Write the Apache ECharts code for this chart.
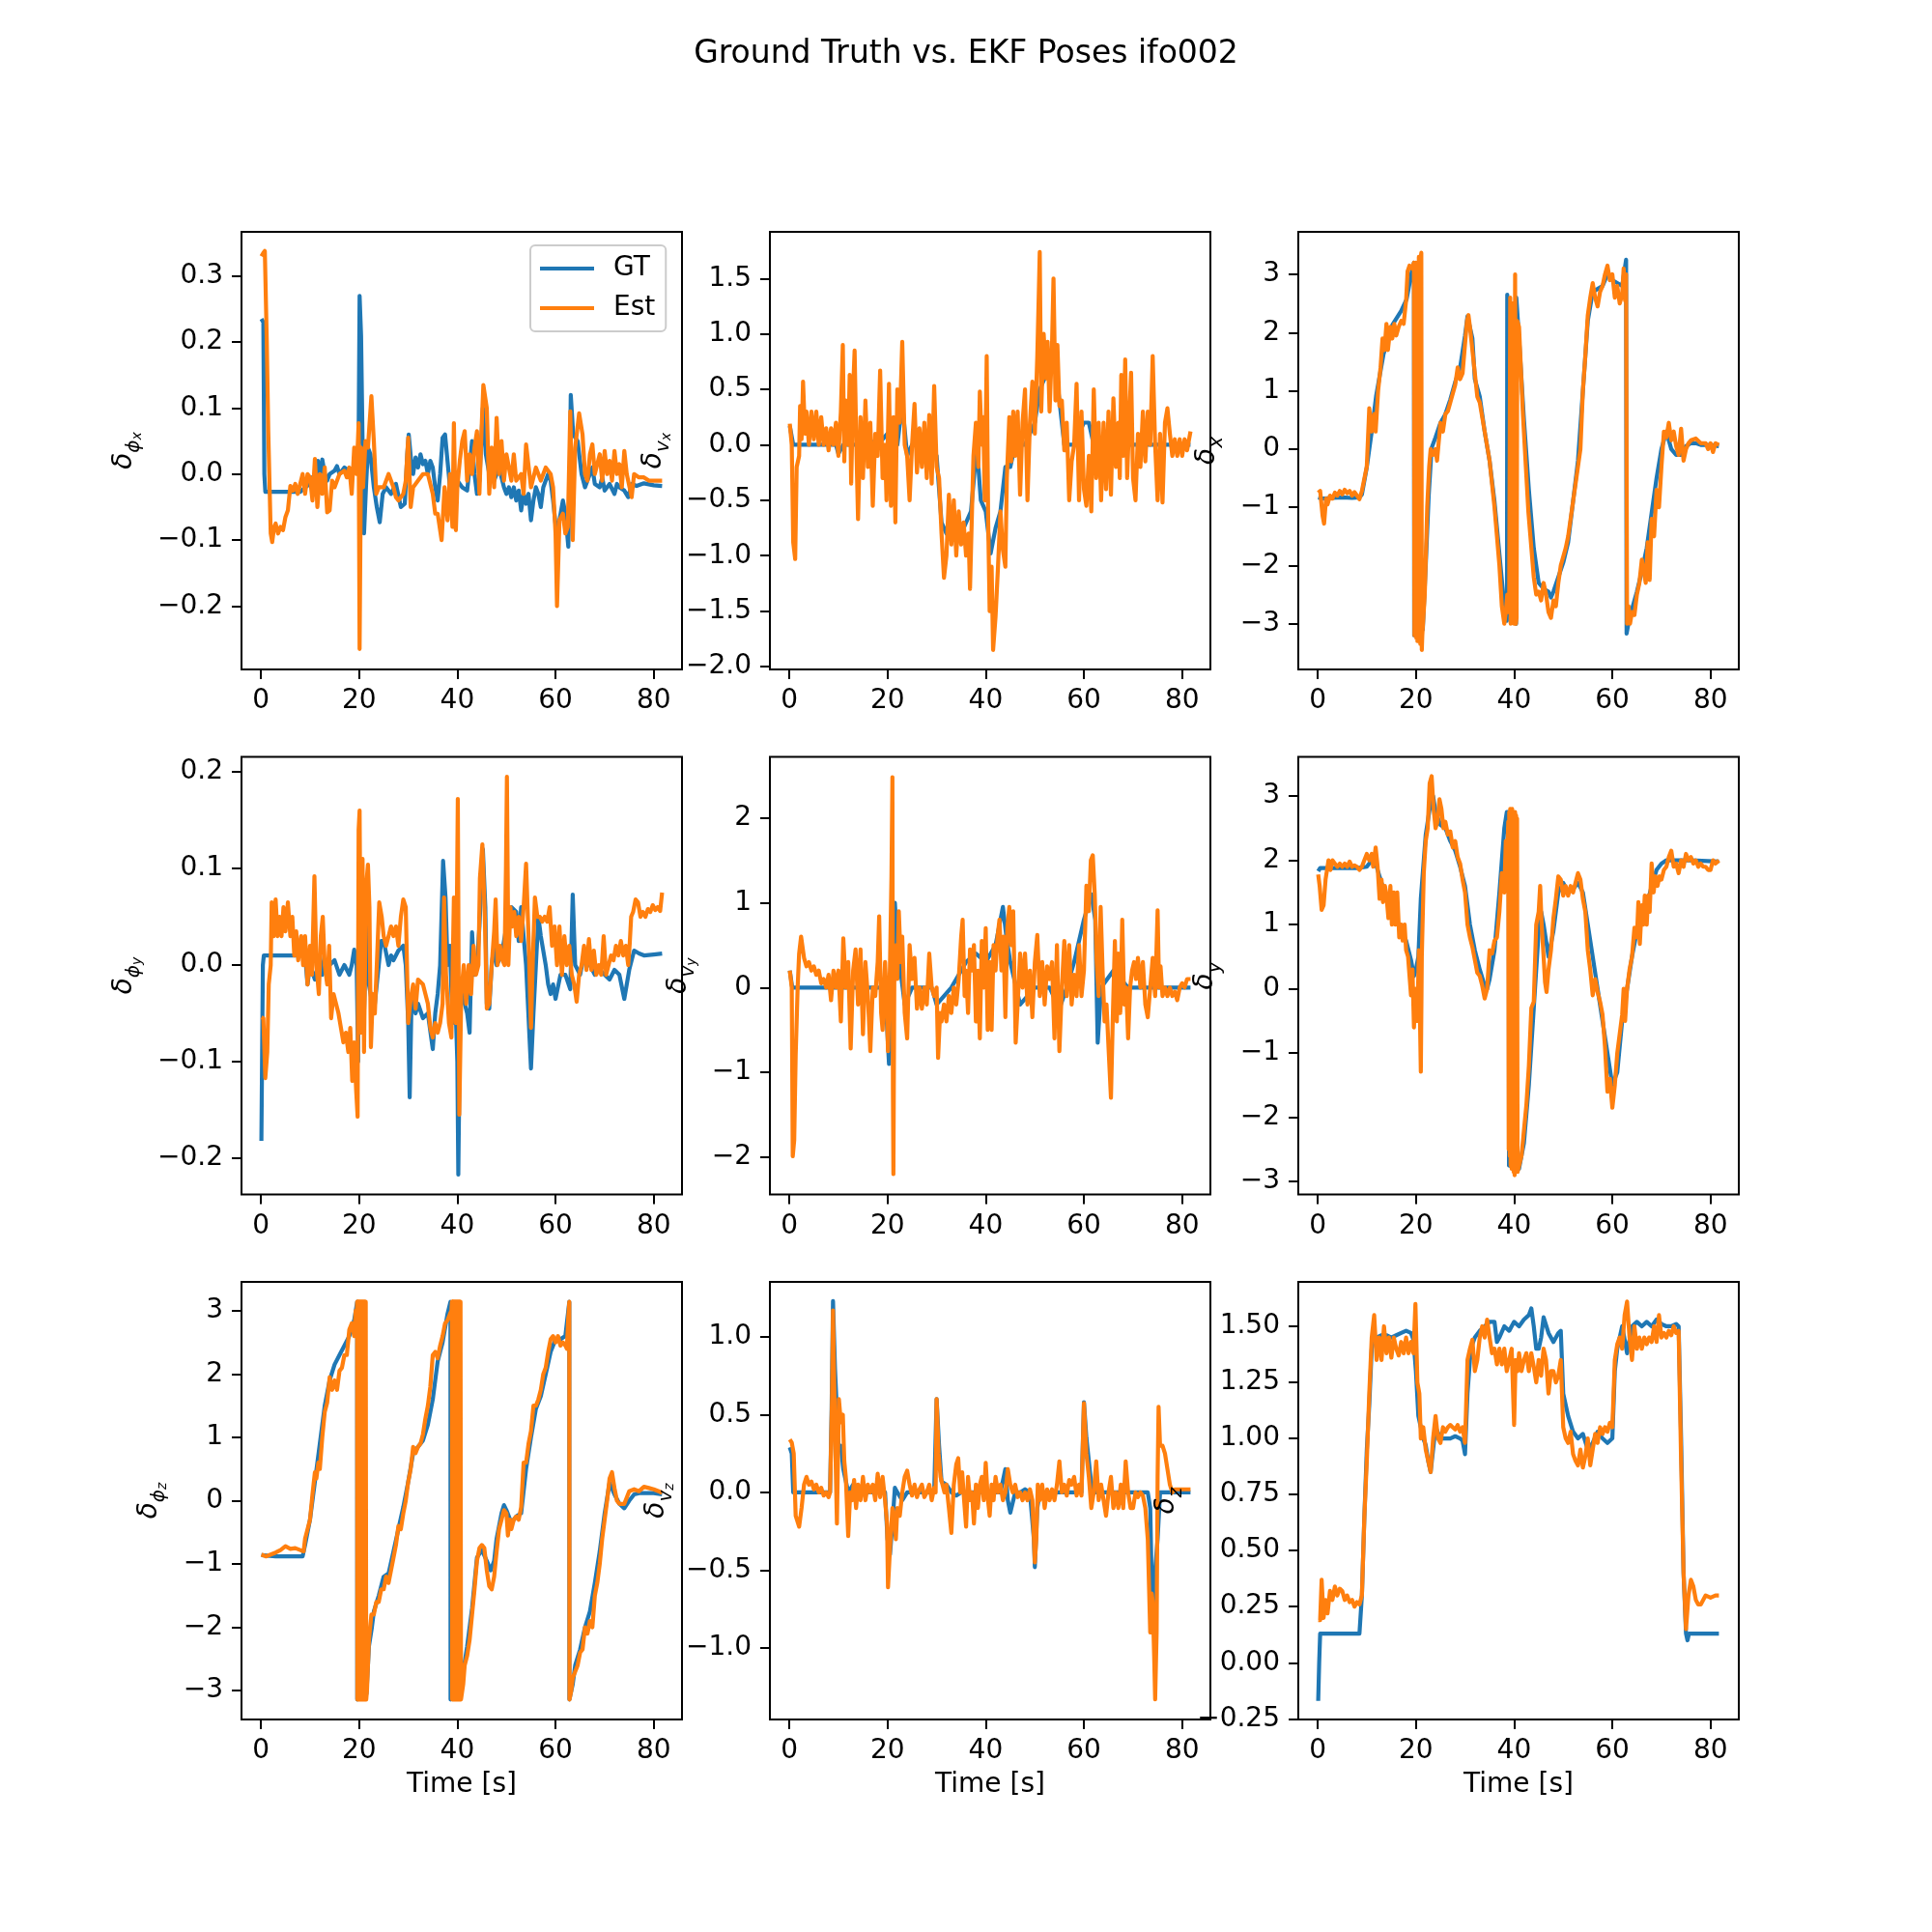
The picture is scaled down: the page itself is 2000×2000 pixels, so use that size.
<!DOCTYPE html>
<html><head><meta charset="utf-8">
<script src="https://cdn.jsdelivr.net/npm/echarts@6.0.0/dist/echarts.min.js"></script>
<style>html,body{margin:0;padding:0;background:#fff}#c{width:2000px;height:2000px}</style>
</head><body><div id="c"></div>
<script>
// ---------------- DATA ----------------
const timeTicks = [0, 20, 40, 60, 80];
const phiX_ticks = [-0.2, -0.1, 0, 0.1, 0.2, 0.3];
const vX_ticks = [-2, -1.5, -1, -0.5, 0, 0.5, 1, 1.5];
const x_ticks = [-3, -2, -1, 0, 1, 2, 3];
const phiY_ticks = [-0.2, -0.1, 0, 0.1, 0.2];
const vY_ticks = [-2, -1, 0, 1, 2];
const y_ticks = [-3, -2, -1, 0, 1, 2, 3];
const phiZ_ticks = [-3, -2, -1, 0, 1, 2, 3];
const vZ_ticks = [-1, -0.5, 0, 0.5, 1];
const z_ticks = [-0.25, 0, 0.25, 0.5, 0.75, 1, 1.25, 1.5];

const phiX_GT = [[0.1,0.235],[0.5,0.23],[0.7,0.0],[0.9,-0.027],[4,-0.027],[8,-0.027],[9,-0.02],[10,-0.015],[10.5,-0.005],[11,-0.01],[11.6,0.02],[12,-0.005],[12.5,0.022],[13,0.0],[13.5,-0.01],[14,0.0],[15,0.005],[15.5,0.012],[16,0.0],[17,0.01],[18,0.005],[19,0.01],[19.5,0.005],[19.9,0.05],[20.1,0.27],[20.4,0.21],[20.7,0.05],[21,-0.09],[21.4,-0.02],[21.8,0.04],[22.3,0.03],[23,-0.02],[23.6,-0.05],[24.2,-0.073],[24.8,-0.03],[25.5,-0.02],[26.5,-0.03],[27.5,-0.015],[28.5,-0.05],[29.3,-0.045],[29.8,0.03],[30.1,0.06],[30.6,0.02],[31,0.0],[31.5,0.025],[32,0.01],[32.5,0.03],[33,0.015],[33.5,0.02],[34,0.0],[34.5,0.02],[35,0.01],[35.5,-0.02],[36,-0.04],[36.5,0.0],[37,0.055],[37.5,0.06],[38,0.02],[38.5,-0.02],[39,0.0],[40,-0.01],[41,-0.02],[42,-0.025],[42.5,0.01],[43,0.05],[43.5,0.0],[44,-0.03],[44.5,-0.01],[45.2,0.1],[45.8,0.03],[46.5,0.0],[47.5,-0.01],[48.5,0.01],[49.5,-0.02],[50,-0.03],[50.5,-0.02],[51,-0.035],[51.5,-0.02],[52,-0.04],[52.5,-0.025],[53,-0.055],[53.5,-0.03],[54,-0.045],[54.5,-0.03],[55,-0.07],[55.5,-0.04],[56,-0.02],[56.5,-0.03],[57,-0.05],[57.5,-0.02],[58,-0.01],[58.5,0.0],[59,-0.01],[59.5,-0.04],[60.2,-0.09],[60.8,-0.07],[61.5,-0.04],[62,-0.06],[62.6,-0.11],[62.9,0.0],[63.1,0.12],[63.6,0.06],[64.5,0.05],[65.3,0.0],[66,-0.02],[66.5,-0.01],[67.5,0.01],[68,-0.015],[69,-0.02],[69.5,-0.005],[70,-0.025],[71,-0.015],[72,-0.03],[72.5,-0.015],[73,-0.02],[74,-0.025],[74.8,-0.035],[75.5,-0.015],[76.5,-0.018],[78,-0.014],[80,-0.017],[81.7,-0.018]];
const phiX_Est = [[0.1,0.33],[0.5,0.335],[0.8,0.338],[1.2,0.2],[1.5,0.065],[2,-0.09],[2.3,-0.103],[2.7,-0.08],[3,-0.075],[3.5,-0.09],[4,-0.08],[4.5,-0.085],[5,-0.065],[5.5,-0.055],[6,-0.018],[6.5,-0.025],[7,-0.015],[7.5,-0.03],[8,-0.015],[8.5,0.0],[9,-0.03],[9.5,0.0],[10,-0.005],[10.5,-0.04],[11,0.023],[11.5,-0.05],[12,0.0],[12.5,-0.03],[13,0.01],[13.5,-0.058],[14,-0.055],[14.5,-0.01],[15,-0.02],[16,0.0],[17,0.005],[17.5,-0.005],[18,0.01],[18.5,-0.03],[19,0.04],[19.5,0.0],[19.9,0.077],[20.1,-0.265],[20.4,0.04],[20.8,-0.02],[21.3,0.05],[21.8,0.04],[22.5,0.118],[23,0.05],[23.5,-0.03],[24,-0.02],[25,-0.02],[26,0.0],[27,-0.02],[27.5,-0.035],[28,-0.04],[29,-0.03],[29.5,-0.01],[30,0.055],[30.5,-0.05],[31,-0.02],[32,-0.01],[33,0.0],[34,0.0],[35,-0.03],[35.5,-0.06],[36,-0.06],[36.8,-0.1],[37.4,-0.02],[38,-0.07],[38.5,0.0],[39,-0.08],[39.3,0.077],[39.7,-0.085],[40,-0.02],[40.5,0.02],[41,0.05],[41.5,0.065],[42,-0.01],[42.5,0.03],[43,0.0],[43.5,0.04],[44,0.065],[44.5,-0.03],[45,0.08],[45.3,0.135],[46,0.1],[46.5,-0.03],[47,0.04],[47.5,-0.02],[48,0.085],[48.5,0.0],[49,0.05],[49.5,-0.01],[50,0.03],[51,-0.01],[51.5,0.03],[52,-0.01],[53,0.0],[53.5,-0.03],[54,0.045],[55,-0.02],[56,0.01],[57,-0.01],[58,0.01],[59,0.0],[59.5,-0.02],[60,-0.09],[60.3,-0.2],[60.8,-0.07],[61.5,-0.06],[62,-0.09],[62.5,-0.08],[63,0.095],[63.5,-0.1],[64,0.04],[64.8,0.092],[65.5,0.06],[66,0.0],[66.5,-0.01],[67,0.03],[67.5,0.045],[68,0.0],[69,0.03],[69.5,-0.01],[70,0.035],[70.5,0.0],[71,0.02],[71.5,-0.01],[72,0.035],[72.5,0.0],[73,0.015],[73.5,-0.02],[74,0.035],[74.5,0.0],[75.5,-0.035],[76,0.0],[77,-0.005],[78,-0.005],[79,-0.01],[80,-0.01],[81.7,-0.01]];

const vX_GT = [[0.1,0.17],[0.8,0.0],[9.5,0.0],[10,-0.08],[11,0.0],[14,0.0],[16,0.05],[18,0.0],[20,0.1],[22,0.0],[23,0.37],[24,-0.1],[25,0.0],[28,0.0],[30,-0.1],[31,-0.7],[32,-0.8],[33,-0.7],[35,-0.8],[37,-0.6],[38,-0.1],[38.5,-0.2],[39,-0.5],[40,-0.6],[41,-0.98],[42,-0.75],[43,-0.6],[44,-0.2],[45,-0.2],[46,0.0],[48,0.0],[50,0.2],[51,0.5],[53,0.7],[54,0.79],[55,0.4],[56,0.0],[58,0.0],[60,0.2],[61,0.2],[62,0.0],[81.7,0.0]];
const vX_Est = [[0.1,0.19],[0.5,0.0],[0.8,-0.88],[1.2,-1.03],[1.5,-0.2],[2,-0.1],[2.2,0.35],[2.5,0.05],[2.8,0.57],[3.2,0.1],[3.5,0.3],[4,0.0],[4.5,0.3],[5,0.05],[5.5,0.3],[6,0.0],[6.5,0.25],[7,0.0],[7.5,0.15],[8,-0.05],[8.5,0.15],[9,0.0],[9.5,0.2],[10,-0.1],[10.5,0.3],[10.9,0.9],[11.2,-0.15],[11.5,0.4],[12,0.0],[12.3,0.63],[12.6,-0.35],[13,0.5],[13.3,0.85],[13.7,-0.1],[14,-0.67],[14.5,0.25],[15,-0.3],[15.5,0.4],[16,-0.2],[16.5,0.2],[17,-0.55],[17.5,0.1],[18,-0.1],[18.5,0.67],[19,-0.3],[19.5,0.0],[19.8,-0.5],[20.3,0.55],[20.7,-0.55],[21.2,0.25],[21.6,-0.7],[22,0.5],[22.5,0.2],[23,0.93],[23.5,0.0],[24,-0.1],[24.5,-0.5],[25,0.0],[25.5,0.37],[26,-0.25],[26.5,0.15],[27,-0.2],[27.5,0.2],[28,-0.3],[28.5,0.27],[29,-0.35],[29.5,0.53],[30,-0.2],[30.5,-0.3],[31,-0.8],[31.5,-1.2],[32,-1.0],[32.5,-0.45],[33,-0.9],[33.5,-0.5],[34,-1.0],[34.5,-0.6],[35,-0.9],[35.5,-0.7],[36,-1.0],[36.5,-0.8],[36.8,-1.3],[37.2,-0.6],[37.5,-0.1],[38,0.2],[38.5,-0.2],[38.8,0.48],[39.2,0.0],[39.5,0.25],[39.8,-0.5],[40.2,0.8],[40.5,-0.7],[40.8,-1.5],[41.2,-1.1],[41.5,-1.85],[42,-1.55],[42.5,-1.1],[43,-0.6],[43.5,-0.95],[44,-1.1],[44.3,-0.3],[44.8,0.25],[45.2,-0.15],[45.6,0.3],[46,-0.1],[46.5,0.3],[47,-0.45],[47.5,0.2],[48,0.5],[48.5,-0.5],[49,0.2],[49.5,0.57],[50,0.1],[50.5,0.8],[50.8,1.35],[51,1.74],[51.3,0.3],[51.8,1.0],[52.3,0.6],[52.6,0.93],[53,0.3],[53.5,0.9],[53.8,1.5],[54.2,0.4],[54.6,0.9],[55,0.35],[55.5,0.4],[56,-0.05],[56.5,0.2],[57,-0.5],[57.5,-0.15],[58,0.0],[58.5,0.55],[59,-0.5],[59.5,0.3],[60,-0.4],[60.5,-0.55],[61,-0.1],[61.5,-0.6],[62,0.5],[62.5,-0.3],[63,0.2],[63.5,-0.5],[64,0.2],[64.5,-0.4],[65,0.3],[65.5,-0.45],[66,0.42],[66.5,-0.2],[67,0.2],[67.3,-0.3],[67.6,0.63],[68,-0.1],[68.4,0.77],[68.8,-0.3],[69.2,0.2],[69.6,0.65],[70,-0.3],[70.5,-0.5],[71,0.1],[71.5,-0.2],[72,0.3],[72.5,-0.15],[73,0.3],[73.5,0.0],[74,0.8],[74.5,0.0],[75,-0.5],[75.5,0.1],[76,-0.52],[76.5,0.2],[77,0.33],[77.5,0.1],[78,-0.1],[78.5,0.05],[79,-0.1],[79.5,0.05],[80,-0.1],[80.5,0.05],[81,-0.05],[81.7,0.12]];

const x_GT = [[0.1,-0.83],[1,-0.85],[3,-0.84],[5,-0.83],[7,-0.84],[8.5,-0.83],[9,-0.78],[10,-0.31],[11,0.3],[11.9,0.91],[13.4,1.63],[15.2,2.13],[17,2.37],[18.1,2.57],[19.2,3.07],[19.6,3.2],[19.65,-3.2],[21.4,-3.1],[22,-2.0],[22.6,-0.8],[23.2,0.02],[24,0.2],[25,0.45],[26,0.6],[27,0.85],[28,1.15],[29,1.4],[30,1.95],[30.5,2.28],[31.5,1.9],[32,1.2],[33,0.9],[34,0.3],[35,-0.2],[36,-0.9],[37,-1.8],[38,-2.7],[38.5,-2.95],[38.55,-2.7],[38.6,2.65],[38.7,2.65],[38.75,-2.7],[39.5,-2.8],[40.4,-3.0],[40.45,2.6],[41,1.9],[42,0.5],[43,-0.7],[44,-1.7],[45,-2.3],[46,-2.4],[47,-2.45],[47.5,-2.55],[48,-2.45],[49,-2.2],[50,-1.95],[51,-1.6],[52,-0.9],[53,-0.2],[54,1.0],[55,2.2],[56,2.7],[57,2.75],[58,2.8],[59,3.0],[60,2.9],[61,2.85],[62,2.8],[62.8,3.25],[62.9,-3.17],[63.5,-2.9],[64,-2.75],[65,-2.45],[66,-2.1],[67,-1.7],[68,-1.1],[69,-0.5],[70,0.0],[71,0.3],[72,0.0],[73,-0.1],[74,-0.1],[75,0.05],[76,0.1],[77,0.1],[78,0.07],[80,0.07],[81.7,0.05]];
const x_Est = [[0.1,-0.75],[0.5,-0.72],[1,-1.15],[1.3,-1.28],[1.7,-0.85],[2,-0.95],[2.5,-0.8],[3,-0.85],[3.5,-0.75],[4,-0.8],[4.5,-0.72],[5,-0.78],[5.5,-0.7],[6,-0.76],[6.5,-0.72],[7,-0.8],[7.5,-0.74],[8,-0.8],[8.5,-0.86],[9,-0.72],[10,-0.3],[10.5,0.7],[11,0.3],[11.5,0.6],[11.8,0.3],[12.3,1.0],[12.8,1.4],[13.2,1.9],[13.6,1.7],[14,2.15],[14.3,1.7],[14.8,2.1],[15.2,1.9],[15.6,2.15],[16,1.95],[16.5,2.1],[17,2.2],[17.5,2.15],[18,2.55],[18.3,3.05],[18.7,3.15],[19.2,3.1],[19.6,3.2],[19.7,-3.2],[19.8,3.1],[19.9,-3.15],[20.0,3.2],[20.1,-3.25],[20.2,3.1],[20.3,-3.3],[20.4,3.2],[20.5,-3.2],[20.6,3.3],[20.7,-3.3],[20.8,3.15],[20.9,-3.35],[21.0,3.3],[21.1,3.37],[21.2,-3.45],[21.3,-3.2],[21.8,-2.5],[22.3,-1.0],[22.7,-0.3],[23,0.0],[23.5,-0.1],[24,0.0],[24.3,-0.2],[25,0.45],[25.5,0.3],[26,0.6],[26.5,0.65],[27,0.8],[28,1.1],[28.5,1.4],[29,1.2],[29.5,1.3],[30,1.8],[30.4,2.2],[30.7,2.3],[31,2.1],[32,1.3],[32.5,0.9],[33,0.8],[34,0.3],[35,-0.2],[36,-1.0],[37,-2.0],[37.5,-2.7],[38,-3.0],[38.3,-2.8],[38.6,-2.5],[38.8,-2.8],[39.0,-2.7],[39.2,2.6],[39.3,-3.0],[39.5,-2.7],[39.7,2.5],[39.8,-2.9],[40.0,-3.0],[40.2,3.0],[40.35,-3.0],[40.5,-2.9],[40.65,2.2],[41,2.1],[41.8,0.58],[42.9,-1.08],[44,-2.2],[44.5,-2.5],[45,-2.45],[45.5,-2.6],[46,-2.3],[46.5,-2.5],[47,-2.8],[47.5,-2.9],[48,-2.6],[48.5,-2.7],[49,-2.3],[49.5,-2.0],[50,-1.85],[50.5,-1.7],[51,-1.5],[52,-0.9],[53,-0.3],[53.5,0.0],[54,1.0],[54.5,1.6],[55,2.3],[55.5,2.6],[56,2.85],[56.5,2.6],[57,2.45],[57.5,2.7],[58,2.8],[58.5,3.0],[59,3.15],[59.5,2.9],[60,3.0],[60.5,2.6],[61,2.8],[61.5,2.5],[62,2.65],[62.3,3.1],[62.6,2.55],[62.8,3.0],[63,-3.0],[63.3,-2.7],[63.6,-3.0],[64,-2.8],[64.5,-2.85],[65,-2.5],[65.5,-2.3],[66,-1.9],[66.3,-1.9],[66.8,-2.3],[67.2,-1.6],[67.6,-2.25],[68,-1.2],[68.5,-1.5],[69,-0.7],[69.5,-1.0],[70,-0.3],[70.5,0.3],[71,0.2],[71.5,0.45],[72,0.15],[72.5,0.3],[73,0.05],[73.5,-0.1],[74,0.35],[74.5,-0.2],[75,0.0],[75.5,0.1],[76,0.15],[77,0.18],[78,0.1],[79,0.1],[79.5,0.0],[80,0.1],[80.5,-0.05],[81,0.1],[81.7,0.07]];

const phiY_GT = [[0.1,-0.182],[0.4,0.0],[0.6,0.01],[8,0.01],[9,0.01],[9.5,-0.02],[10,0.0],[11,-0.015],[12,0.01],[12.5,-0.01],[13,0.005],[14,0.0],[15,0.005],[16,-0.01],[17,0.0],[18,-0.01],[18.5,0.0],[19,0.016],[19.5,0.0],[19.8,-0.1],[20,0.05],[20.5,0.08],[21,-0.05],[21.5,0.042],[22,-0.02],[23,-0.05],[24,0.0],[24.5,0.025],[25,0.025],[26,0.0],[26.5,0.01],[27,0.005],[28,0.015],[29,0.02],[29.5,0.0],[30,-0.06],[30.3,-0.137],[30.7,-0.03],[31,-0.03],[31.5,-0.05],[32,-0.04],[33,-0.055],[34,-0.05],[35,-0.087],[35.5,-0.05],[36,-0.03],[36.5,0.0],[37.1,0.108],[37.6,0.07],[38,0.0],[38.5,0.02],[39,-0.06],[39.5,-0.02],[40,-0.1],[40.2,-0.217],[40.6,-0.03],[41,-0.03],[42,-0.05],[42.5,-0.07],[43,0.034],[43.5,-0.01],[44,0.0],[44.5,0.04],[45.2,0.12],[45.7,0.06],[46,-0.04],[46.5,-0.045],[47,0.0],[47.5,0.02],[48,0.0],[49,0.01],[50,0.04],[51,0.06],[52,0.055],[52.5,0.025],[53,0.06],[54,0.0],[55,-0.107],[55.5,-0.05],[56,0.0],[56.5,0.05],[57,0.03],[58,0.0],[58.5,-0.02],[59,-0.03],[59.5,-0.02],[60,-0.035],[61,-0.01],[62,-0.01],[63,-0.025],[63.5,0.073],[64,0.0],[65,-0.01],[66,0.015],[67,0.0],[68,-0.01],[69,-0.005],[70,-0.01],[71,-0.015],[72,-0.005],[73,-0.01],[74,-0.035],[75,-0.005],[76,0.015],[77,0.012],[78,0.01],[80,0.011],[81.7,0.012]];
const phiY_Est = [[0.1,-0.054],[0.5,-0.055],[0.9,-0.117],[1.3,-0.09],[1.6,-0.02],[2,0.0],[2.2,0.065],[2.6,0.03],[3,0.068],[3.4,0.03],[3.8,0.05],[4.2,0.03],[4.6,0.06],[5,0.035],[5.5,0.065],[6,0.03],[6.4,0.05],[6.8,0.01],[7.2,0.035],[7.6,0.005],[8.2,0.03],[8.6,0.0],[9,0.03],[9.5,-0.02],[10,0.02],[10.4,-0.01],[10.9,0.092],[11.3,0.0],[11.8,-0.03],[12.2,0.03],[12.6,0.05],[13,0.0],[13.5,-0.02],[13.9,0.02],[14.3,-0.055],[14.8,-0.03],[15.3,-0.04],[15.8,-0.05],[16.3,-0.065],[16.8,-0.08],[17.3,-0.07],[17.8,-0.09],[18.2,-0.065],[18.6,-0.12],[19,-0.08],[19.4,-0.13],[19.7,-0.157],[19.9,0.14],[20.1,0.16],[20.4,-0.07],[20.7,0.11],[21,-0.09],[21.4,0.08],[21.8,0.104],[22.1,0.06],[22.4,-0.085],[22.8,-0.03],[23.2,-0.05],[23.6,0.0],[24.1,0.065],[24.6,0.05],[25,0.03],[25.5,0.02],[26,0.03],[26.5,0.04],[27,0.03],[27.5,0.04],[28,0.02],[28.5,0.05],[29,0.068],[29.5,0.06],[30,-0.06],[30.5,-0.035],[31,-0.02],[31.5,-0.045],[32,-0.015],[33,-0.02],[34,-0.04],[34.5,-0.065],[35,-0.075],[35.5,-0.06],[36,-0.07],[36.5,-0.06],[37,-0.04],[37.3,0.07],[37.7,-0.01],[38.3,-0.06],[38.8,-0.075],[39.3,0.07],[39.7,-0.06],[40.1,0.172],[40.4,-0.155],[40.8,-0.03],[41.3,0.0],[41.8,-0.04],[42.3,0.0],[42.8,-0.03],[43.3,0.02],[43.8,-0.01],[44.3,0.0],[44.6,0.09],[45.1,0.125],[45.6,0.05],[46,-0.045],[46.5,-0.04],[47,0.0],[47.5,0.035],[47.8,0.068],[48.2,0.0],[48.7,0.02],[49.2,0.005],[49.6,0.0],[49.9,0.1],[50.1,0.195],[50.4,0.0],[50.8,0.06],[51.2,0.04],[51.6,0.055],[52,0.03],[52.5,0.05],[53,0.025],[53.5,0.06],[54,0.105],[54.5,0.03],[55,-0.065],[55.4,0.01],[55.8,0.07],[56.3,0.05],[56.8,0.05],[57.3,0.045],[57.8,0.05],[58.3,0.045],[58.8,0.06],[59.3,0.02],[59.8,0.04],[60.3,0.0],[60.8,0.04],[61.3,-0.01],[61.8,0.03],[62.3,0.0],[62.8,0.02],[63.3,-0.01],[63.8,-0.02],[64.3,-0.038],[64.8,-0.01],[65.3,0.0],[65.8,0.02],[66.3,-0.005],[66.8,0.027],[67.3,-0.005],[67.8,0.015],[68.3,-0.01],[68.8,0.0],[69.3,-0.01],[69.8,0.03],[70.3,-0.01],[70.8,0.0],[71.3,0.01],[71.8,0.005],[72.3,0.02],[72.8,0.01],[73.3,0.025],[73.8,0.01],[74.3,0.02],[74.8,0.0],[75.1,0.022],[75.4,0.05],[75.8,0.055],[76.3,0.068],[76.8,0.065],[77.3,0.05],[77.8,0.055],[78.3,0.05],[78.8,0.058],[79.3,0.055],[79.8,0.062],[80.3,0.057],[80.8,0.06],[81.3,0.056],[81.7,0.075]];

const vY_GT = [[0.1,0.2],[0.6,0.0],[10,0.0],[19.5,0.0],[20.3,-0.9],[21,0.0],[21.5,1.0],[22,0.5],[23.5,-0.2],[25,0.0],[29,0.0],[30,-0.2],[33,0.0],[36,0.3],[38,0.4],[40,0.3],[42,0.5],[43.5,0.95],[44.2,0.6],[45,0.3],[47,-0.2],[50,0.0],[53,0.0],[55,-0.25],[56.5,0.0],[58,0.3],[60,0.8],[61.5,1.1],[62.3,0.8],[62.8,-0.65],[63.5,0.0],[66,0.2],[69,0.0],[81.7,0.0]];
const vY_Est = [[0.1,0.2],[0.5,0.0],[0.7,-1.99],[1.0,-1.8],[1.3,-0.8],[1.7,0.0],[2,0.4],[2.4,0.6],[3,0.35],[3.5,0.25],[4,0.3],[4.5,0.2],[5,0.25],[5.5,0.15],[6,0.2],[6.5,0.05],[7,0.1],[7.5,0.0],[8,0.15],[8.5,-0.15],[9,0.2],[9.5,0.0],[10,0.2],[10.5,-0.4],[11,0.58],[11.5,0.0],[12,0.3],[12.5,-0.72],[13,0.2],[13.5,0.45],[14,-0.2],[14.5,0.45],[15,-0.55],[15.5,0.3],[16,-0.1],[16.5,-0.75],[17,0.0],[17.5,-0.1],[18,0.3],[18.3,0.84],[18.7,-0.3],[19,-0.5],[19.5,0.3],[19.8,-0.1],[20.1,-0.75],[20.5,0.25],[20.8,1.3],[21.0,2.48],[21.1,-1.2],[21.2,-2.2],[21.4,0.3],[21.8,0.5],[22,0.1],[22.3,0.9],[22.7,0.3],[23,0.6],[23.5,-0.3],[24,-0.6],[24.5,0.5],[25,0.1],[25.5,0.35],[26,-0.25],[26.5,0.0],[27,-0.25],[27.5,0.0],[28,-0.2],[28.5,0.4],[29,0.0],[29.5,-0.1],[30,0.0],[30.3,-0.83],[30.7,-0.3],[31,-0.4],[31.5,-0.2],[32,-0.4],[32.5,-0.1],[33,-0.3],[33.5,0.0],[34,-0.2],[34.5,0.1],[35,0.6],[35.3,0.8],[35.7,-0.1],[36,0.2],[36.4,-0.3],[36.8,0.45],[37.2,0.2],[37.6,0.5],[38,-0.4],[38.4,0.2],[38.8,-0.6],[39.2,0.55],[39.6,0.0],[40,0.7],[40.4,-0.5],[40.8,0.3],[41.2,-0.5],[41.6,0.5],[42,0.2],[42.4,0.6],[42.8,0.8],[43.2,0.2],[43.6,0.6],[44,-0.35],[44.4,0.7],[44.8,0.95],[45.2,0.5],[45.6,0.9],[46.1,-0.65],[46.5,-0.2],[47,0.4],[47.5,0.0],[48,0.4],[48.5,-0.2],[49,0.2],[49.5,-0.35],[50,0.3],[50.5,0.62],[51,-0.1],[51.5,0.3],[52,-0.2],[52.5,0.25],[53,0.1],[53.5,0.3],[54,-0.6],[54.5,0.5],[55,-0.75],[55.5,0.0],[56,0.55],[56.5,-0.1],[57,0.5],[57.5,-0.2],[58,0.15],[58.5,-0.1],[59,0.5],[59.5,-0.1],[60,0.2],[60.5,1.2],[61,0.9],[61.4,1.5],[61.8,1.56],[62.2,1.1],[62.6,0.3],[63,-0.1],[63.4,0.95],[63.8,0.2],[64.2,-0.4],[64.6,-0.2],[65,-0.7],[65.5,-1.3],[65.9,-0.3],[66.3,0.55],[66.7,-0.4],[67,0.4],[67.4,-0.3],[67.8,0.8],[68.2,-0.2],[68.6,0.0],[69,-0.6],[69.4,0.0],[69.8,0.2],[70.2,0.3],[70.6,0.1],[71,0.35],[71.5,0.0],[72,0.3],[72.5,-0.2],[73,-0.35],[73.5,0.0],[74,0.35],[74.5,-0.1],[75,0.91],[75.3,0.0],[75.6,0.25],[76,-0.1],[76.5,0.0],[77,-0.1],[77.5,0.0],[78,-0.1],[78.5,-0.05],[79,-0.15],[79.5,0.0],[80,0.05],[80.5,0.0],[81,0.1],[81.7,0.1]];

const y_GT = [[0.1,1.83],[0.5,1.88],[8,1.88],[10,1.9],[11,2.0],[12,1.9],[13,1.65],[14,1.45],[15,1.3],[16,1.1],[17,0.9],[18,0.75],[19,0.45],[19.6,0.2],[20,0.3],[20.5,0.5],[21,1.4],[22,2.4],[23,2.9],[23.5,3.0],[24,2.75],[25,2.55],[26,2.5],[27,2.3],[28,2.15],[29,1.9],[30,1.6],[31,1.0],[32,0.6],[33,0.3],[34,0.05],[34.5,0.0],[35,0.15],[36,0.6],[37,1.5],[38,2.5],[38.5,2.75],[38.9,2.75],[38.95,-2.75],[40,-2.75],[41,-2.8],[42,-2.4],[43,-1.5],[44,-0.3],[45,0.9],[45.5,1.2],[46,1.0],[47,0.5],[48,0.9],[49,1.5],[50,1.65],[51,1.5],[52,1.55],[53,1.65],[54,1.5],[55,1.0],[56,0.5],[57,0.0],[58,-0.5],[59,-1.0],[60,-1.5],[61,-1.3],[62,-0.5],[63,0.0],[64,0.5],[65,0.9],[66,1.1],[67,1.3],[68,1.6],[69,1.85],[70,1.95],[71,2.0],[72,2.0],[76,2.0],[81.7,1.98]];
const y_Est = [[0.1,1.78],[0.4,1.6],[0.8,1.23],[1.2,1.3],[1.6,1.7],[2.2,2.0],[2.6,1.85],[3,2.0],[3.5,1.95],[4,1.9],[4.5,1.95],[5,1.9],[5.5,1.95],[6,1.9],[6.5,1.98],[7,1.9],[7.5,1.92],[8,1.9],[8.5,1.85],[9,1.9],[9.5,2.0],[10,2.1],[10.5,2.0],[11,2.1],[11.3,1.9],[11.8,2.2],[12.2,1.9],[12.6,1.4],[13,1.7],[13.3,1.35],[13.7,1.6],[14,1.45],[14.4,1.1],[14.8,1.6],[15.1,1.0],[15.5,1.5],[15.8,1.0],[16.2,1.5],[16.6,0.8],[17,1.0],[17.3,0.75],[17.7,1.0],[18,0.6],[18.4,0.5],[18.7,0.2],[19,-0.1],[19.3,0.3],[19.6,-0.6],[19.9,0.0],[20.3,-0.5],[20.6,0.6],[21,-1.29],[21.2,0.5],[21.6,1.8],[22,2.3],[22.4,2.5],[22.8,3.2],[23.2,3.31],[23.6,2.8],[24,2.5],[24.4,2.6],[24.8,2.95],[25.2,2.8],[25.6,2.5],[26,2.6],[26.5,2.4],[27,2.45],[27.5,2.2],[28,2.3],[28.5,2.05],[29,1.95],[29.5,1.7],[30,1.5],[30.5,1.0],[31,0.8],[31.5,0.65],[32,0.45],[32.5,0.25],[33,0.2],[33.5,0.05],[34,-0.15],[34.5,0.0],[35,0.6],[35.5,0.55],[36,0.75],[36.5,0.8],[37,1.2],[37.5,1.8],[38,1.5],[38.3,2.3],[38.6,2.0],[38.8,2.6],[38.9,-2.5],[39.0,2.75],[39.1,-2.6],[39.2,2.8],[39.3,-2.75],[39.4,2.7],[39.5,-2.8],[39.6,2.8],[39.7,-2.6],[39.8,2.75],[39.9,-2.85],[40.0,2.7],[40.1,-2.9],[40.2,2.75],[40.3,-2.6],[40.4,2.7],[40.5,-2.7],[40.6,2.65],[40.7,-2.85],[41,-2.85],[41.5,-2.6],[42,-2.2],[42.5,-1.8],[43,-1.2],[43.5,-0.3],[44,-0.2],[44.5,1.0],[45,1.2],[45.3,1.6],[45.6,1.0],[46,0.5],[46.3,0.1],[46.6,-0.05],[47,0.3],[47.5,0.6],[48,1.1],[48.5,1.4],[49,1.75],[49.5,1.7],[50,1.45],[50.5,1.6],[51,1.45],[51.5,1.6],[52,1.5],[52.5,1.65],[53,1.8],[53.5,1.7],[54,1.4],[54.5,1.2],[55,0.6],[55.5,0.3],[56,-0.1],[56.5,0.15],[57,-0.05],[57.5,-0.2],[58,-0.4],[58.5,-0.9],[59,-1.6],[59.5,-1.4],[60,-1.85],[60.5,-1.5],[61,-1.0],[61.5,-0.7],[62,-0.4],[62.3,0.0],[62.6,-0.5],[63,0.0],[63.5,0.3],[64,0.5],[64.5,0.95],[65,0.8],[65.3,1.35],[65.6,0.7],[66,1.3],[66.3,1.0],[66.6,1.45],[67,1.0],[67.3,1.45],[67.6,1.2],[68,1.95],[68.4,1.5],[68.8,1.75],[69.2,1.6],[69.6,1.75],[70,1.7],[70.5,1.85],[71,1.9],[71.5,2.05],[72,2.15],[72.5,1.9],[73,1.95],[73.5,1.8],[74,2.0],[74.5,1.9],[75,2.1],[75.5,2.0],[76,2.05],[76.5,1.95],[77,2.0],[77.5,1.9],[78,1.95],[78.5,1.9],[79,1.9],[79.5,1.85],[80,1.85],[80.5,2.0],[81,1.95],[81.7,2.0]];

const phiZ_GT = [[0.1,-0.86],[3,-0.88],[8.5,-0.88],[9,-0.7],[10,-0.3],[11,0.3],[12,0.9],[13,1.5],[14,1.9],[15,2.15],[16,2.3],[17,2.45],[18,2.6],[19,2.85],[19.6,3.14],[19.62,-3.14],[20.5,-3.1],[21.5,-3.05],[22,-2.3],[22.6,-2.0],[23,-1.75],[24,-1.5],[25,-1.2],[26,-1.15],[27,-0.8],[28,-0.45],[29,-0.1],[30,0.3],[31,0.75],[32,0.85],[33,0.95],[34,1.2],[35,1.6],[36,2.2],[37,2.5],[38,2.95],[38.6,3.14],[38.62,-3.14],[39.5,-3.1],[40.5,-3.05],[41,-2.8],[42,-2.3],[43,-1.7],[44,-0.9],[45,-0.78],[46,-0.95],[46.8,-1.1],[47.5,-0.95],[48,-0.6],[49,-0.2],[49.5,-0.07],[50,-0.15],[51,-0.35],[52,-0.25],[53,-0.2],[54,0.5],[55,1.0],[56,1.45],[57,1.65],[58,2.0],[59,2.35],[60,2.55],[61,2.55],[62,2.6],[62.8,3.14],[62.82,-3.14],[63.5,-2.9],[64,-2.6],[65,-2.35],[66,-2.0],[67,-1.75],[68,-1.3],[69,-0.8],[70,-0.2],[71,0.28],[72,0.1],[73,-0.05],[74,-0.12],[75,0.0],[76,0.1],[77,0.12],[80,0.12],[81.7,0.1]];
const phiZ_Est = [[0.1,-0.85],[1,-0.88],[2,-0.85],[3,-0.82],[4,-0.78],[5,-0.72],[6,-0.76],[7,-0.75],[8,-0.78],[8.7,-0.8],[9,-0.6],[10,-0.3],[10.5,0.1],[11,0.45],[11.3,0.35],[11.7,0.6],[12,0.5],[12.5,1.0],[13,1.4],[13.5,1.55],[14,1.95],[14.5,1.75],[15,1.9],[15.5,1.75],[16,2.05],[16.5,2.1],[17,2.3],[17.5,2.3],[18,2.7],[18.5,2.8],[19,2.6],[19.3,3.0],[19.5,2.8],[19.6,3.14],[19.65,-3.14],[19.75,3.14],[19.85,-3.14],[19.95,3.14],[20.05,-3.14],[20.15,3.14],[20.25,-3.14],[20.35,3.14],[20.45,-3.14],[20.55,3.14],[20.65,-3.14],[20.75,3.14],[20.85,-3.14],[20.95,3.14],[21.05,-3.14],[21.15,3.14],[21.25,-3.14],[21.35,3.14],[21.45,-3.14],[21.6,-3.0],[22,-2.2],[22.5,-1.8],[23,-1.8],[23.5,-1.6],[24,-1.6],[24.5,-1.4],[25,-1.4],[25.5,-1.2],[26,-1.3],[26.5,-1.1],[27,-0.9],[27.5,-0.7],[28,-0.4],[28.5,-0.45],[29,-0.2],[29.5,0.0],[30,0.3],[30.5,0.5],[31,0.85],[31.5,0.75],[32,0.85],[32.5,0.9],[33,1.05],[33.5,1.3],[34,1.5],[34.5,1.8],[35,2.3],[35.5,2.35],[36,2.25],[36.5,2.45],[37,2.6],[37.5,2.8],[38,2.85],[38.5,2.95],[38.8,3.0],[38.9,3.14],[38.95,-3.14],[39.05,3.14],[39.15,-3.14],[39.25,3.14],[39.35,-3.14],[39.45,3.14],[39.55,-3.14],[39.65,3.14],[39.75,-3.14],[39.85,3.14],[39.95,-3.14],[40.05,3.14],[40.15,-3.14],[40.25,3.14],[40.35,-3.14],[40.45,3.14],[40.55,-3.14],[40.65,3.14],[40.75,-3.14],[40.85,-3.14],[41.2,-2.9],[41.5,-2.6],[42,-2.45],[42.5,-2.2],[43,-1.8],[43.5,-1.4],[44,-0.95],[44.5,-0.75],[45,-0.7],[45.5,-0.75],[46,-1.1],[46.5,-1.35],[47,-1.4],[47.5,-1.2],[48,-0.8],[48.5,-0.45],[49,-0.3],[49.5,-0.15],[50,-0.2],[50.3,-0.55],[50.7,-0.3],[51,-0.45],[51.5,-0.3],[52,-0.25],[52.5,-0.3],[53,-0.1],[53.5,0.6],[54,0.6],[54.5,0.9],[55,1.1],[55.5,1.5],[56,1.5],[56.5,1.6],[57,1.75],[57.5,2.0],[58,2.1],[58.5,2.35],[59,2.55],[59.5,2.6],[60,2.5],[60.5,2.6],[61,2.45],[61.5,2.5],[62,2.45],[62.3,2.4],[62.6,2.9],[62.8,3.14],[62.85,-3.14],[63.2,-3.0],[63.5,-2.8],[64,-2.7],[64.5,-2.6],[65,-2.4],[65.5,-2.35],[66,-2.0],[66.5,-2.1],[67,-1.9],[67.5,-2.0],[68,-1.5],[68.5,-1.3],[69,-1.0],[69.5,-0.6],[70,-0.3],[70.5,0.0],[71,0.35],[71.5,0.45],[72,0.2],[72.5,0.0],[73,-0.05],[74,-0.05],[74.5,0.05],[75,0.15],[76,0.18],[77,0.15],[78,0.22],[79,0.2],[80,0.18],[81,0.15],[81.7,0.12]];

const vZ_GT = [[0.1,0.29],[0.5,0.25],[0.8,0.0],[8.3,0.0],[8.6,0.5],[8.9,1.23],[9.3,0.8],[10,0.3],[10.5,0.3],[11,0.15],[12,0.0],[13,0.05],[14,0.0],[19.5,0.0],[20,-0.3],[20.5,-0.4],[21,-0.2],[21.5,0.03],[22,0.0],[23,-0.05],[24,0.0],[29.5,0.0],[30,0.6],[30.5,0.3],[31,0.07],[32,0.05],[33,0.0],[34,-0.02],[35,0.0],[43,0.0],[44,0.15],[44.5,-0.05],[45,-0.13],[46,0.0],[47,0.0],[48,0.02],[49,0.0],[49.8,-0.3],[50,-0.48],[50.5,-0.1],[51,0.0],[59.5,0.0],[60,0.58],[60.5,0.35],[61,0.2],[61.5,0.05],[62,0.0],[73,0.0],[73.5,-0.1],[74,-0.9],[74.5,-0.5],[75,-0.3],[75.5,0.0],[81.7,0.0]];
const vZ_Est = [[0.1,0.34],[0.5,0.32],[0.9,0.25],[1.3,-0.15],[2,-0.22],[2.5,-0.1],[3,0.05],[3.5,0.1],[4,0.05],[4.5,0.07],[5,0.02],[5.5,0.05],[6,0.0],[6.5,0.03],[7,-0.02],[7.5,0.0],[8,-0.03],[8.3,0.0],[8.7,0.6],[8.9,1.17],[9.3,0.4],[9.7,-0.2],[10.1,0.6],[10.5,0.45],[10.9,0.5],[11.2,0.2],[11.5,0.1],[12,-0.28],[12.4,0.0],[12.8,-0.05],[13.2,0.08],[13.6,-0.1],[14,0.05],[14.5,-0.05],[15,0.1],[15.5,-0.05],[16,0.05],[16.5,0.0],[17,0.05],[17.5,-0.05],[18,0.12],[18.5,-0.03],[19,0.1],[19.5,-0.05],[19.9,-0.2],[20.1,-0.61],[20.6,-0.3],[21,-0.1],[21.3,-0.15],[21.7,-0.3],[22,-0.1],[22.5,-0.15],[23,0.0],[23.5,0.1],[24,0.14],[24.5,0.05],[25,-0.02],[25.5,0.05],[26,-0.03],[26.5,0.02],[27,0.05],[27.5,-0.03],[28,0.0],[28.5,0.05],[29,-0.05],[29.5,0.03],[29.8,0.0],[30,0.6],[30.4,0.25],[30.8,0.1],[31.2,0.05],[31.6,0.0],[32,0.05],[32.5,-0.1],[33,-0.26],[33.5,0.05],[34,0.18],[34.4,0.22],[34.8,0.0],[35.2,0.13],[35.6,-0.05],[36,-0.22],[36.4,0.1],[36.8,-0.05],[37.2,0.0],[37.6,-0.2],[38,0.05],[38.4,-0.1],[38.8,0.05],[39.2,0.1],[39.6,-0.05],[40,0.19],[40.4,-0.03],[40.8,-0.15],[41.2,0.05],[41.6,-0.05],[42,0.1],[42.5,0.0],[43,0.05],[43.5,-0.05],[44,0.0],[44.5,0.15],[45,0.05],[45.5,0.0],[46,0.05],[46.5,-0.03],[47,0.0],[47.5,-0.05],[48,0.0],[48.5,-0.05],[49,0.02],[49.5,-0.05],[50,-0.45],[50.3,-0.3],[50.6,0.05],[51,-0.05],[51.5,0.05],[52,-0.1],[52.5,0.02],[53,-0.05],[53.5,0.02],[54,-0.05],[54.5,0.05],[55,0.2],[55.5,0.0],[56,0.05],[56.5,-0.02],[57,0.08],[57.5,0.05],[58,0.1],[58.5,-0.02],[59,0.05],[59.5,-0.02],[60,0.574],[60.5,0.25],[61,0.1],[61.5,-0.1],[62,0.0],[62.5,0.2],[63,-0.05],[63.5,0.05],[64,-0.05],[64.5,-0.15],[65,0.0],[65.5,0.1],[66,-0.1],[66.5,0.0],[67,-0.1],[67.5,0.05],[68,-0.1],[68.5,0.2],[69,0.0],[69.5,-0.1],[70,-0.1],[70.5,0.0],[71,-0.03],[71.5,0.0],[72,-0.02],[72.5,-0.1],[73,-0.3],[73.5,-0.9],[73.8,-0.65],[74,-0.7],[74.3,-1.05],[74.5,-1.33],[74.8,-0.9],[75,0.1],[75.2,0.55],[75.5,0.3],[76,0.3],[76.5,0.25],[77,0.15],[77.5,0.05],[78,0.0],[78.5,0.02],[79,0.02],[80,0.02],[81,0.02],[81.7,0.02]];

const z_GT = [[0.1,-0.17],[0.3,0.0],[0.5,0.13],[8.5,0.13],[9,0.3],[9.5,0.65],[10,0.95],[10.5,1.15],[11,1.4],[11.5,1.45],[12,1.45],[13,1.46],[14,1.46],[15,1.45],[16,1.46],[17,1.47],[18,1.48],[19,1.47],[19.5,1.44],[20,1.3],[20.5,1.1],[21,1.05],[21.5,1.0],[22,0.97],[22.5,0.9],[23,0.85],[23.5,0.95],[24,1.05],[25,1.0],[26,1.0],[27,1.0],[28,1.01],[29,1.0],[29.5,0.99],[30,0.93],[30.5,1.2],[31,1.35],[31.5,1.42],[32,1.45],[33,1.48],[34,1.5],[35,1.52],[36,1.52],[36.5,1.43],[37,1.45],[38,1.5],[39,1.48],[40,1.52],[41,1.5],[42,1.53],[43,1.55],[43.5,1.58],[44,1.5],[44.5,1.4],[45,1.4],[45.5,1.45],[46,1.54],[47,1.47],[48,1.43],[49,1.47],[49.5,1.48],[50,1.2],[51,1.1],[52,1.03],[53,1.0],[54,1.02],[55,0.95],[56,0.98],[57,1.03],[58,1.0],[59,0.98],[60,1.0],[60.5,1.3],[61,1.4],[62,1.5],[63,1.38],[64,1.5],[65,1.52],[66,1.5],[67,1.52],[68,1.5],[69,1.53],[70,1.51],[71,1.5],[72,1.5],[73,1.51],[73.5,1.5],[74,1.0],[74.5,0.4],[75,0.13],[75.3,0.1],[75.6,0.13],[81.7,0.13]];
const z_Est = [[0.1,0.19],[0.5,0.19],[0.8,0.37],[1.2,0.2],[1.6,0.28],[2,0.22],[2.5,0.32],[3,0.28],[3.5,0.34],[4,0.3],[4.5,0.33],[5,0.32],[5.5,0.28],[6,0.3],[6.5,0.27],[7,0.28],[7.5,0.25],[8,0.27],[8.5,0.26],[9,0.3],[9.5,0.65],[10,0.9],[10.5,1.2],[11,1.45],[11.5,1.55],[12,1.35],[12.5,1.45],[13,1.35],[13.5,1.5],[14,1.38],[14.5,1.45],[15,1.36],[15.5,1.45],[16,1.4],[16.5,1.37],[17,1.43],[17.5,1.38],[18,1.45],[18.5,1.38],[19,1.43],[19.5,1.38],[19.9,1.6],[20.3,1.25],[20.7,1.2],[21,1.0],[21.5,1.05],[22,0.95],[22.5,0.9],[23,0.85],[23.5,1.0],[24,1.1],[24.5,1.0],[25,0.98],[25.5,1.05],[26,1.03],[26.5,1.05],[27,1.06],[27.5,1.05],[28,1.04],[28.5,1.06],[29,1.03],[29.5,1.05],[30,0.98],[30.5,1.35],[31,1.4],[31.5,1.44],[32,1.3],[32.5,1.35],[33,1.45],[33.5,1.5],[34,1.45],[34.5,1.53],[35,1.45],[35.5,1.38],[36,1.4],[36.5,1.33],[37,1.4],[37.5,1.33],[38,1.4],[38.5,1.3],[39,1.35],[39.5,1.4],[40,1.06],[40.3,1.35],[40.7,1.3],[41,1.38],[41.5,1.3],[42,1.35],[42.5,1.38],[43,1.3],[43.5,1.38],[44,1.32],[44.5,1.25],[45,1.35],[45.5,1.28],[46,1.4],[46.5,1.35],[47,1.2],[47.5,1.3],[48,1.3],[48.5,1.25],[49,1.28],[49.5,1.35],[50,1.05],[50.5,1.0],[51,0.98],[51.5,1.03],[52,0.93],[52.5,0.9],[53,0.88],[53.5,0.95],[54,0.87],[54.5,0.92],[55,1.0],[55.5,0.88],[56,0.95],[56.5,1.02],[57,0.98],[57.5,1.05],[58,1.02],[58.5,1.05],[59,1.03],[59.5,1.07],[60,1.05],[60.5,1.35],[61,1.42],[61.5,1.45],[62,1.4],[62.5,1.55],[63,1.61],[63.5,1.45],[64,1.35],[64.5,1.5],[65,1.4],[65.5,1.45],[66,1.4],[66.5,1.45],[67,1.42],[67.5,1.45],[68,1.43],[68.5,1.5],[69,1.43],[69.5,1.55],[70,1.45],[70.5,1.47],[71,1.45],[71.5,1.48],[72,1.46],[72.5,1.5],[73,1.47],[73.5,1.48],[74,0.9],[74.5,0.4],[75,0.15],[75.5,0.3],[76,0.37],[76.5,0.34],[77,0.28],[77.5,0.26],[78,0.26],[78.5,0.28],[79,0.3],[80,0.29],[81,0.3],[81.7,0.3]];

// ---------------- CHART ----------------
const FONT = 'DejaVu Sans';
const C_GT = '#1f77b4', C_EST = '#ff7f0e';
const X_MIN = -3.95, X_MAX = 85.75;
const colLeft = [250, 797, 1344], rowTop = [240, 783.5, 1327];
const GW = 456, GH = 453;

const panels = [
  {gt: phiX_GT, est: phiX_Est, ylim: [-0.296, 0.367], ticks: phiX_ticks, dec: 1, name: '{d|δ}{s|ϕ}{ss|x}', gap: 101},
  {gt: vX_GT, est: vX_Est, ylim: [-2.026, 1.921], ticks: vX_ticks, dec: 1, name: '{d|δ}{s|v}{ss|x}', gap: 100},
  {gt: x_GT, est: x_Est, ylim: [-3.785, 3.73], ticks: x_ticks, dec: 0, name: '{d|δ}{s1|x}', gap: 74},
  {gt: phiY_GT, est: phiY_Est, ylim: [-0.2375, 0.2156], ticks: phiY_ticks, dec: 1, name: '{d|δ}{s|ϕ}{ss|y}', gap: 101},
  {gt: vY_GT, est: vY_Est, ylim: [-2.44, 2.72], ticks: vY_ticks, dec: 0, name: '{d|δ}{s|v}{ss|y}', gap: 74},
  {gt: y_GT, est: y_Est, ylim: [-3.2, 3.61], ticks: y_ticks, dec: 0, name: '{d|δ}{s1|y}', gap: 76},
  {gt: phiZ_GT, est: phiZ_Est, ylim: [-3.456, 3.456], ticks: phiZ_ticks, dec: 0, name: '{d|δ}{s|ϕ}{ss|z}', gap: 75},
  {gt: vZ_GT, est: vZ_Est, ylim: [-1.459, 1.353], ticks: vZ_ticks, dec: 1, name: '{d|δ}{s|v}{ss|z}', gap: 97},
  {gt: z_GT, est: z_Est, ylim: [-0.253, 1.698], ticks: z_ticks, dec: 2, name: '{d|δ}{s1|z}', gap: 116}
];

function fmt(v, d) {
  let s = Number(v).toFixed(d);
  if (s.charAt(0) === '-') s = '\u2212' + s.slice(1);
  return s;
}

const nameRich = {
  d: {fontFamily: FONT, fontSize: 28, fontStyle: 'italic', color: '#000', lineHeight: 40},
  s: {fontFamily: FONT, fontSize: 20, fontStyle: 'italic', color: '#000', lineHeight: 20, verticalAlign: 'bottom'},
  ss: {fontFamily: FONT, fontSize: 14, fontStyle: 'italic', color: '#000', lineHeight: 8, verticalAlign: 'bottom'},
  s1: {fontFamily: FONT, fontSize: 20, fontStyle: 'italic', color: '#000', lineHeight: 20, verticalAlign: 'bottom'}
};

const grids = [], xAxes = [], yAxes = [], series = [];
panels.forEach((p, i) => {
  const r = Math.floor(i / 3), c = i % 3;
  grids.push({left: colLeft[c], top: rowTop[r], width: GW, height: GH, show: true,
    borderColor: '#000', borderWidth: 2, backgroundColor: 'rgba(0,0,0,0)',
    containLabel: false, outerBoundsMode: 'none'});
  xAxes.push({type: 'value', gridIndex: i, min: X_MIN, max: X_MAX, position: 'bottom', z: 10,
    axisLine: {show: false, onZero: false},
    axisTick: {show: true, inside: false, customValues: timeTicks, length: 10, lineStyle: {color: '#000', width: 2}},
    axisLabel: {show: true, customValues: timeTicks, margin: 19, fontSize: 28, fontFamily: FONT, color: '#000',
      formatter: v => fmt(v, 0)},
    splitLine: {show: false},
    name: r === 2 ? 'Time [s]' : '', nameLocation: 'middle', nameGap: 54,
    nameTextStyle: {fontFamily: FONT, fontSize: 28, color: '#000'}});
  yAxes.push({type: 'value', gridIndex: i, min: p.ylim[0], max: p.ylim[1], position: 'left', z: 10,
    axisLine: {show: false, onZero: false},
    axisTick: {show: true, inside: false, customValues: p.ticks, length: 10, lineStyle: {color: '#000', width: 2}},
    axisLabel: {show: true, customValues: p.ticks, margin: 19, fontSize: 28, fontFamily: FONT, color: '#000',
      formatter: v => fmt(v, p.dec)},
    splitLine: {show: false},
    name: p.name, nameLocation: 'middle', nameRotate: 90, nameGap: p.gap,
    nameTextStyle: {fontFamily: FONT, fontSize: 28, color: '#000', rich: nameRich}});
  series.push({name: 'GT', type: 'line', xAxisIndex: i, yAxisIndex: i, data: p.gt,
    symbol: 'none', showSymbol: false, color: C_GT, z: 2, clip: true,
    lineStyle: {width: 4.2, color: C_GT, join: 'round'}, animation: false});
  series.push({name: 'Est', type: 'line', xAxisIndex: i, yAxisIndex: i, data: p.est,
    symbol: 'none', showSymbol: false, color: C_EST, z: 3, clip: true,
    lineStyle: {width: 4.2, color: C_EST, join: 'round'}, animation: false});
});

const chart = echarts.init(document.getElementById('c'), null, {renderer: 'canvas', width: 2000, height: 2000});
chart.setOption({
  backgroundColor: '#ffffff',
  animation: false,
  title: {text: 'Ground Truth vs. EKF Poses ifo002', left: 'center', top: 40, padding: 0,
    textStyle: {fontFamily: FONT, fontSize: 33, fontWeight: 'normal', color: '#000'}},
  legend: {data: ['GT', 'Est'], orient: 'vertical', left: 549, top: 254, z: 12,
    padding: [10, 11, 10, 10], itemWidth: 56, itemHeight: 4, itemGap: 13, icon: 'rect',
    borderColor: '#cccccc', borderWidth: 2, borderRadius: 5, backgroundColor: 'rgba(255,255,255,0.8)',
    selectedMode: false,
    formatter: n => '{t|' + n + '}',
    textStyle: {fontFamily: FONT, fontSize: 28, color: '#000', lineHeight: 28,
      rich: {t: {fontFamily: FONT, fontSize: 28, color: '#000', lineHeight: 28, padding: [0, 0, 0, 15]}}}},
  grid: grids, xAxis: xAxes, yAxis: yAxes, series: series
});
</script></body></html>
